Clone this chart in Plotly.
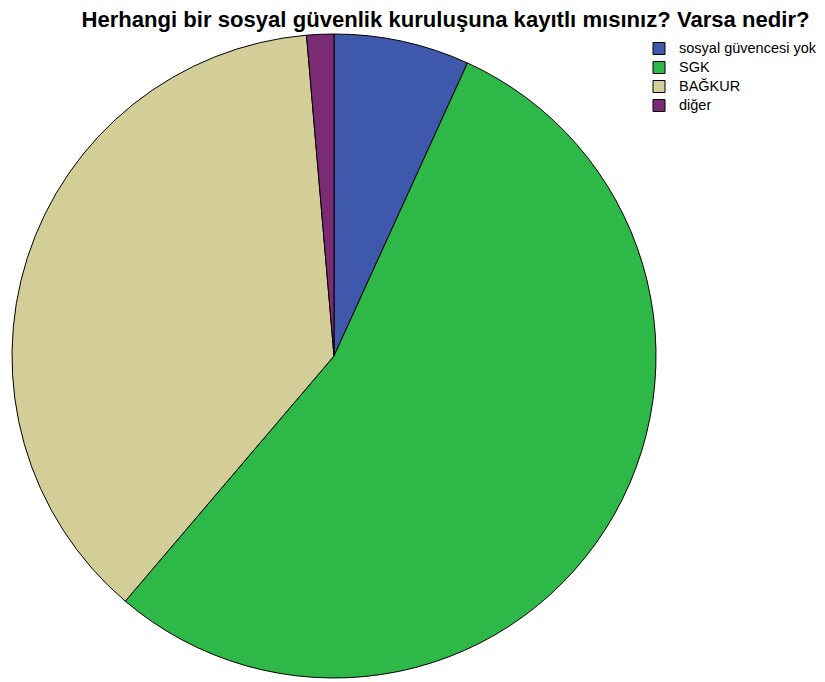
import plotly.graph_objects as go

labels = ["sosyal güvencesi yok", "SGK", "BAĞKUR", "diğer"]
counts = [10, 80, 55, 2]
colors = ["#3E58AC", "#2EB848", "#D3CE97", "#7B2A74"]

W, H = 825, 682
cx, cy, r = 326, 348, 322

legend_labels = ['<span style="font-size:14.5px">' + s + '</span>' for s in labels]

fig = go.Figure(go.Pie(
    labels=legend_labels,
    values=counts,
    sort=False,
    direction="clockwise",
    rotation=0,
    marker=dict(colors=colors, line=dict(color="#000000", width=1)),
    textinfo="none",
    hoverinfo="label+value+percent",
    domain=dict(x=[(cx - r) / W, (cx + r) / W], y=[(H - cy - r) / H, (H - cy + r) / H]),
))

fig.update_layout(
    width=W, height=H,
    margin=dict(l=0, r=0, t=0, b=0),
    paper_bgcolor="white",
    plot_bgcolor="white",
    font=dict(family="Liberation Sans, Arial, sans-serif", color="#000000"),
    title=dict(
        text="<b>Herhangi bir sosyal güvenlik kuruluşuna kayıtlı mısınız? Varsa nedir?</b>",
        x=437.5 / W, xanchor="center",
        y=1 - 11 / H, yanchor="middle",
        font=dict(size=22.1, family="Liberation Sans, Arial, sans-serif", color="#000000"),
    ),
    legend=dict(
        x=631 / W, xanchor="left",
        y=1 - 26 / H, yanchor="top",
        font=dict(size=12, family="Liberation Sans, Arial, sans-serif", color="#000000"),
        bgcolor="rgba(0,0,0,0)",
        tracegroupgap=0,
        itemclick=False,
    ),
)

fig.write_html("out.html")
